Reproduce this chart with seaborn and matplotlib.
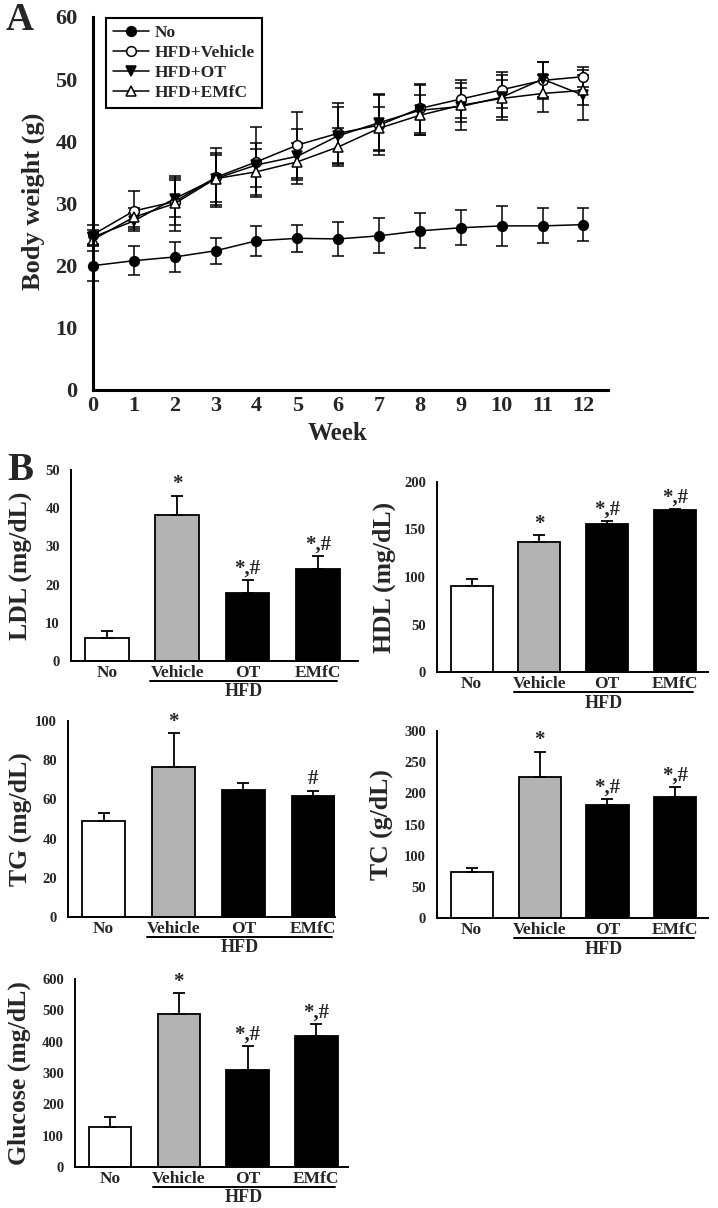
import numpy as np
import pandas as pd
import matplotlib
matplotlib.use('Agg')
import matplotlib.pyplot as plt
import seaborn as sns
from matplotlib.lines import Line2D

# -- 1. data --
# panel A: body weight (g) per week, mean and SD
weeks = list(range(13))
bw_no = [20.0, 20.8, 21.4, 22.4, 24.0, 24.4, 24.3, 24.8, 25.6, 26.1, 26.4, 26.4, 26.6]
bw_no_err = [2.4, 2.3, 2.4, 2.1, 2.4, 2.2, 2.8, 2.8, 2.8, 2.8, 3.2, 2.8, 2.7]
bw_vehicle = [25.0, 28.8, 30.3, 34.2, 36.7, 39.4, 41.3, 42.6, 45.3, 46.8, 48.3, 49.8, 50.4]
bw_vehicle_err = [1.5, 3.2, 3.8, 4.8, 5.6, 5.3, 4.8, 4.8, 3.9, 3.1, 2.9, 3.0, 1.6]
bw_ot = [24.6, 27.2, 30.8, 34.0, 36.2, 37.6, 40.9, 43.0, 45.0, 45.6, 47.1, 50.0, 47.4]
bw_ot_err = [1.2, 1.3, 3.0, 4.2, 3.6, 4.4, 4.6, 4.6, 4.0, 3.8, 3.6, 2.8, 4.0]
bw_emfc = [24.2, 27.8, 30.0, 34.0, 35.1, 36.7, 39.1, 42.1, 44.2, 45.8, 46.9, 47.7, 48.2]
bw_emfc_err = [1.0, 1.5, 4.5, 3.8, 3.7, 3.0, 3.0, 3.5, 3.2, 2.7, 3.0, 3.0, 2.4]
series_names = ['No', 'HFD+Vehicle', 'HFD+OT', 'HFD+EMfC']

# panel B: serum values per group
groups = ['No', 'Vehicle', 'OT', 'EMfC']
ldl = [6.0, 38.3, 17.8, 24.1]
ldl_err = [1.8, 5.0, 3.3, 3.3]
ldl_marks = ['', '*', '*,#', '*,#']
hdl = [91.0, 137.0, 155.5, 170.5]
hdl_err = [7.0, 7.0, 3.5, 1.5]
hdl_marks = ['', '*', '*,#', '*,#']
tg = [48.8, 76.5, 64.8, 61.5]
tg_err = [4.4, 17.2, 3.8, 3.0]
tg_marks = ['', '*', '', '#']
tc = [73.0, 226.5, 180.5, 193.5]
tc_err = [8.0, 40.0, 11.0, 16.0]
tc_marks = ['', '*', '*,#', '*,#']
glucose = [127.0, 488.0, 310.0, 417.0]
glucose_err = [33.0, 66.0, 75.0, 40.0]
glucose_marks = ['', '*', '*,#', '*,#']

bar_colours = {'No': 'white', 'Vehicle': '#b3b3b3', 'OT': 'black', 'EMfC': 'black'}

# -- 2. style --
sns.set_style('white')
plt.rcParams['font.family'] = ['Liberation Serif', 'DejaVu Serif']
plt.rcParams['font.weight'] = 'bold'
plt.rcParams['axes.labelweight'] = 'bold'

W, H = 718, 1208
fig = plt.figure(figsize=(W / 100, H / 100), dpi=100)


def px_axes(left, top, right, bottom):
    # place an axes by its pixel box in the figure
    return fig.add_axes([left / W, 1 - bottom / H, (right - left) / W, (bottom - top) / H])


def style_spines(ax, lw):
    sns.despine(ax=ax)
    for side in ['left', 'bottom']:
        ax.spines[side].set_color('black')
        ax.spines[side].set_linewidth(lw)


# -- 3. panel A: body weight --
axA = px_axes(93, 17, 608, 390)
line_styles = [
    dict(marker='o', markerfacecolor='black'),
    dict(marker='o', markerfacecolor='white'),
    dict(marker='v', markerfacecolor='black'),
    dict(marker='^', markerfacecolor='white'),
]
all_means = [bw_no, bw_vehicle, bw_ot, bw_emfc]
all_errs = [bw_no_err, bw_vehicle_err, bw_ot_err, bw_emfc_err]

for means, errs in zip(all_means, all_errs):
    axA.errorbar(weeks, means, yerr=errs, fmt='none', ecolor='black',
                 elinewidth=1.1, capsize=4.2, capthick=1.1, clip_on=False)
for means, st in zip(all_means, line_styles):
    sns.lineplot(x=weeks, y=means, color='black', linewidth=1.1,
                 markersize=7, markeredgecolor='black', markeredgewidth=1.1,
                 clip_on=False, ax=axA, **st)

axA.set_xlim(0, 12.6)
axA.set_ylim(0, 60)
axA.set_xticks(weeks)
axA.set_yticks(range(0, 61, 10))
axA.tick_params(axis='both', length=0, labelsize=16)
axA.tick_params(axis='y', pad=11)
axA.tick_params(axis='x', pad=4)
style_spines(axA, 2.2)
axA.set_xlabel('')
axA.set_ylabel('')
fig.text(338 / W, 1 - 433 / H, 'Week', ha='center', va='center', fontsize=18, fontweight='bold')
fig.text(33 / W, 1 - 201 / H, 'Body weight (g)', rotation=90, ha='center', va='center',
         fontsize=19, fontweight='bold')

handles = [Line2D([], [], color='black', lw=1.1, markersize=7, markeredgecolor='black',
                  markeredgewidth=1.1, **st) for st in line_styles]
leg = axA.legend(handles, series_names, loc='upper left', bbox_to_anchor=(106 / W, 1 - 18 / H),
                 bbox_transform=fig.transFigure, prop={'weight': 'bold', 'size': 12.5},
                 frameon=True, fancybox=False, framealpha=1, edgecolor='black',
                 handlelength=2.1, handletextpad=0.3, labelspacing=0.22, borderpad=0.4,
                 borderaxespad=0)
leg.get_frame().set_linewidth(1.5)

fig.text(20 / W, 1 - 21 / H, 'A', ha='center', va='center', fontsize=28, fontweight='bold')
fig.text(20 / W, 1 - 471 / H, 'B', ha='center', va='center', fontsize=28, fontweight='bold')


# -- 4. panel B: bar charts --
def bar_panel(box, xright, vals, errs, marks, ymax, ystep, ylabel, ylabel_x):
    left, top, right, bottom = box
    ax = px_axes(left, top, right, bottom)
    df = pd.DataFrame({'group': groups, 'value': vals})
    sns.barplot(data=df, x='group', y='value', hue='group', palette=bar_colours,
                width=0.62, edgecolor='black', linewidth=1.3, legend=False,
                errorbar=None, ax=ax)
    ax.errorbar(range(len(groups)), vals, yerr=[np.zeros(len(vals)), errs], fmt='none',
                ecolor='black', elinewidth=1.3, capsize=4, capthick=1.3, zorder=1)
    for i, m in enumerate(marks):
        if m:
            ax.annotate(m, (i, vals[i] + errs[i]), xytext=(0, 1), textcoords='offset points',
                        ha='center', va='bottom', fontsize=15, fontweight='bold')
    ax.set_xlim(-0.51, xright)
    ax.set_ylim(0, ymax)
    ax.set_yticks(np.arange(0, ymax + 1, ystep))
    ax.tick_params(axis='y', length=0, labelsize=10.5, pad=8)
    ax.tick_params(axis='x', length=0, labelsize=12.5, pad=3)
    style_spines(ax, 1.4)
    ax.set_xlabel('')
    ax.set_ylabel('')

    # HFD bracket under the last three bars
    h_px = bottom - top
    trans = ax.get_xaxis_transform()
    ax.plot([0.62, 3.27], [-20 / h_px, -20 / h_px], transform=trans, color='black',
            lw=1.4, clip_on=False)
    ax.text(1.95, -31 / h_px, 'HFD', transform=trans, ha='center', va='center',
            fontsize=13, fontweight='bold')
    fig.text(ylabel_x / W, 1 - (top + bottom) / 2 / H, ylabel, rotation=90,
             ha='center', va='center', fontsize=18.5, fontweight='bold')
    return ax


bar_panel((71, 470, 358, 661), 3.57, ldl, ldl_err, ldl_marks, 50, 10, 'LDL (mg/dL)', 20)
bar_panel((437, 482, 708, 672), 3.49, hdl, hdl_err, hdl_marks, 200, 50, 'HDL (mg/dL)', 384)
bar_panel((68, 721, 335, 917), 3.31, tg, tg_err, tg_marks, 100, 20, 'TG (mg/dL)', 20)
bar_panel((437, 731, 708, 918), 3.48, tc, tc_err, tc_marks, 300, 50, 'TC (g/dL)', 381)
bar_panel((75, 979, 348, 1167), 3.46, glucose, glucose_err, glucose_marks, 600, 100,
          'Glucose (mg/dL)', 19)

plt.savefig('out.png', dpi=100)
